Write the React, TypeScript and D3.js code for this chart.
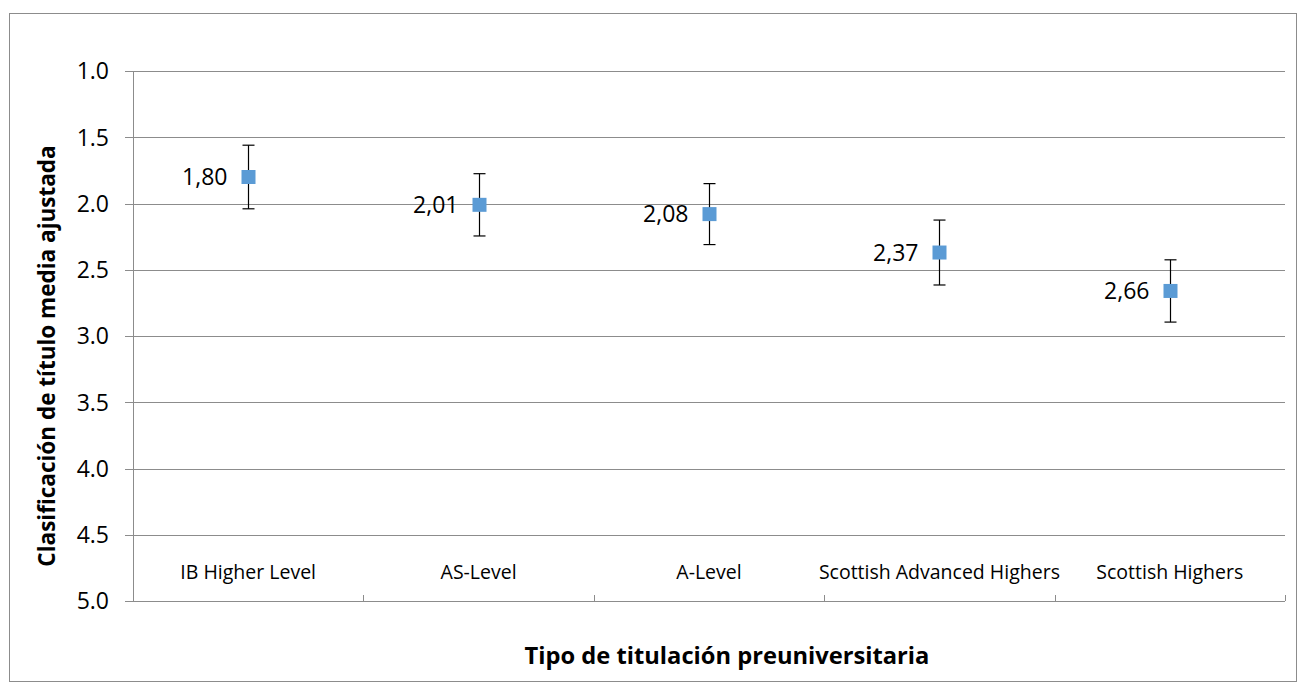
import React from 'react';
import * as d3 from 'd3';

const categories = ['IB Higher Level', 'AS-Level', 'A-Level', 'Scottish Advanced Highers', 'Scottish Highers'];
const means = [1.8, 2.01, 2.08, 2.37, 2.66];
const errors = [0.24, 0.235, 0.23, 0.245, 0.235];
const yTicks = [1.0, 1.5, 2.0, 2.5, 3.0, 3.5, 4.0, 4.5, 5.0];

const W = 1302;
const H = 688;
const margin = { left: 133, right: 17, top: 71, bottom: 87 };
const font = '"Open Sans", "Liberation Sans", sans-serif';

export default function App() {
  const x = d3.scaleBand().domain(categories).range([margin.left, W - margin.right]);
  const y = d3.scaleLinear().domain([1, 5]).range([margin.top, H - margin.bottom]);
  const x0 = margin.left;
  const x1 = W - margin.right;
  const yb = y(5);
  const bw = x.bandwidth();
  const grid = '#8c8c8c';

  return (
    <svg width={W} height={H} style={{ position: 'absolute', left: 0, top: 0 }} fontFamily={font}>
      <rect x={9.5} y={13.5} width={1287} height={668} fill="#fff" stroke={grid} strokeWidth={1} />
      {yTicks.map((t) => (
        <g key={t}>
          <line x1={x0 - 8} x2={x1} y1={Math.round(y(t)) + 0.5} y2={Math.round(y(t)) + 0.5} stroke={grid} strokeWidth={1} />
          <text x={109} y={y(t)} dy="0.36em" textAnchor="end" fontSize={23} fill="#000">
            {t.toFixed(1)}
          </text>
        </g>
      ))}
      <line x1={x0 + 0.5} x2={x0 + 0.5} y1={y(1)} y2={yb} stroke={grid} />
      {categories.map((c) => (
        <g key={c}>
          <line x1={Math.round((x(c) || 0) + bw) + 0.5} x2={Math.round((x(c) || 0) + bw) + 0.5} y1={yb - 6} y2={yb} stroke={grid} />
          <text x={(x(c) || 0) + bw / 2} y={579} textAnchor="middle" fontSize={19.5} fill="#000">
            {c}
          </text>
        </g>
      ))}
      {categories.map((c, i) => {
        const cx = Math.round((x(c) || 0) + bw / 2) + 0.5;
        const top = y(means[i] - errors[i]);
        const bot = y(means[i] + errors[i]);
        return (
          <g key={'p' + c}>
            <line x1={cx} x2={cx} y1={top} y2={bot} stroke="#000" strokeWidth={1.2} />
            <line x1={cx - 6} x2={cx + 6} y1={top} y2={top} stroke="#000" strokeWidth={1.2} />
            <line x1={cx - 6} x2={cx + 6} y1={bot} y2={bot} stroke="#000" strokeWidth={1.2} />
            <rect x={cx - 7} y={y(means[i]) - 7} width={14} height={14} fill="#5b9bd5" />
            <text x={cx - 21} y={y(means[i])} dy="0.36em" textAnchor="end" fontSize={23} fill="#000">
              {means[i].toFixed(2).replace('.', ',')}
            </text>
          </g>
        );
      })}
      <text x={727} y={664} textAnchor="middle" fontSize={23.7} fontWeight="bold" fill="#000">
        Tipo de titulación preuniversitaria
      </text>
      <text transform={`translate(55,${(y(1) + yb) / 2 + 20}) rotate(-90)`} textAnchor="middle" fontSize={22.5} fontWeight="bold" fill="#000">
        Clasificación de título media ajustada
      </text>
    </svg>
  );
}
